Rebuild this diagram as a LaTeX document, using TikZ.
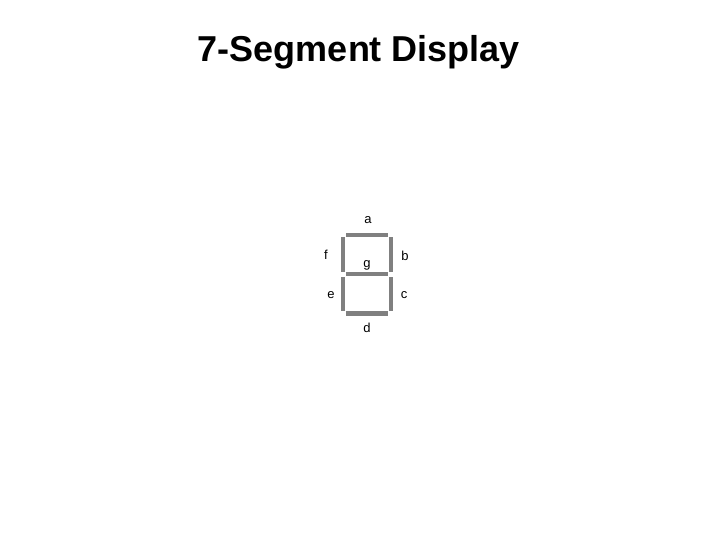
\documentclass[tikz,border=0pt]{standalone}
\usepackage{fontspec}
\setmainfont{Liberation Sans}
\begin{document}
\begin{tikzpicture}[x=1bp,y=-1bp,
  seg/.style={fill=segcol,draw=none},
  lbl/.style={font=\fontsize{13bp}{15bp}\selectfont,inner sep=0pt,anchor=center},
  ttl/.style={font=\fontsize{36bp}{40bp}\selectfont\bfseries,inner sep=0pt,anchor=base}]
\definecolor{segcol}{RGB}{128,128,128}
\useasboundingbox (0,0) rectangle (720,540);
\node[ttl] (title) at (359,62) {7-Segment Display};
% segments
\fill[seg] (346,232.7) rectangle (388,237);   % a
\fill[seg] (340.7,236.7) rectangle (345,271.7); % f
\fill[seg] (388.5,236.7) rectangle (392.8,271.7); % b
\fill[seg] (346,272) rectangle (388,276.3);   % g
\fill[seg] (340.7,276.7) rectangle (345.2,311); % e
\fill[seg] (388.8,276.7) rectangle (393.2,311); % c
\fill[seg] (346,311.3) rectangle (388,315.7); % d
% labels
\node[lbl] (la) at (368,220) {a};
\node[lbl] (lf) at (326,255) {f};
\node[lbl] (lb) at (405,256) {b};
\node[lbl] (lg) at (367,265) {g};
\node[lbl] (le) at (331,295) {e};
\node[lbl] (lc) at (404,295) {c};
\node[lbl] (ld) at (367,328) {d};
\end{tikzpicture}
\end{document}
